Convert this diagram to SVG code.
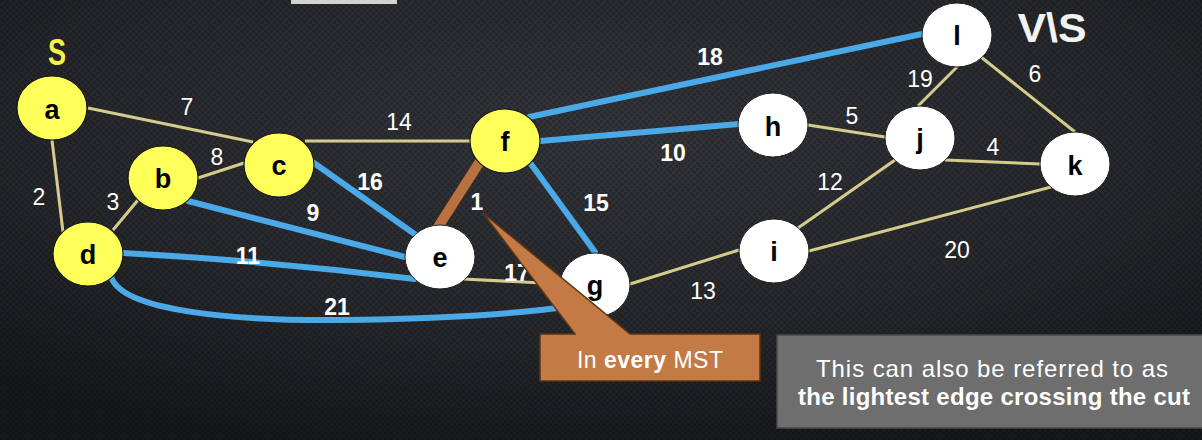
<svg xmlns="http://www.w3.org/2000/svg" width="1202" height="440" viewBox="0 0 1202 440">
<defs>
<radialGradient id="bg" cx="0.5" cy="0.3" r="0.75">
<stop offset="0" stop-color="#33353a"/>
<stop offset="0.6" stop-color="#26282c"/>
<stop offset="1" stop-color="#17181b"/>
</radialGradient>
<pattern id="tex" width="6" height="6" patternUnits="userSpaceOnUse">
<circle cx="1.5" cy="1.5" r="1.4" fill="#000" opacity="0.22"/>
<circle cx="4.5" cy="4.5" r="1.4" fill="#000" opacity="0.22"/>
</pattern>
</defs>
<style>
.tan{stroke:#d5cb8c;stroke-width:3;fill:none}
.blue{stroke:#4aa9e6;stroke-width:6;fill:none;stroke-linecap:round}
.brown{stroke:#b8713f;stroke-width:10;fill:none;stroke-linecap:round}
.lbl{font-family:"Liberation Sans",Arial,sans-serif;font-size:23px;fill:#fff;text-anchor:middle}
.b{font-weight:bold}
.yn{fill:#ffff5a;stroke:#1a1a1a;stroke-width:1.2}
.wn{fill:#fff;stroke:#222;stroke-width:1}
.nt{font-family:"Liberation Sans",Arial,sans-serif;font-size:27px;font-weight:bold;fill:#000;text-anchor:middle}
</style>
<rect width="1202" height="440" fill="url(#bg)"/>
<rect width="1202" height="440" fill="url(#tex)"/>
<rect x="291" y="0" width="106" height="4" fill="#d2d2d2"/>

<text x="57" y="65" font-family="Liberation Sans,Arial,sans-serif" font-size="36" font-weight="bold" fill="#f5f04a" text-anchor="middle" textLength="18" lengthAdjust="spacingAndGlyphs">S</text>
<text x="1052" y="42" font-family="Liberation Sans,Arial,sans-serif" font-size="40" font-weight="bold" fill="#f2f2f2" text-anchor="middle" textLength="69" lengthAdjust="spacingAndGlyphs">V\S</text>

<g id="connectors">
<line class="tan" x1="88" y1="108" x2="253" y2="142"/>
<line class="tan" x1="305" y1="141" x2="470" y2="141"/>
<line class="tan" x1="52" y1="140" x2="63" y2="232"/>
<line class="tan" x1="138" y1="200" x2="113" y2="230"/>
<line class="tan" x1="198" y1="178" x2="244" y2="163"/>
<line class="tan" x1="463" y1="279" x2="562" y2="284"/>
<line class="tan" x1="630" y1="284" x2="739" y2="250"/>
<line class="tan" x1="808" y1="125" x2="885" y2="137"/>
<line class="tan" x1="918" y1="106" x2="957" y2="67"/>
<line class="tan" x1="981" y1="57" x2="1075" y2="132"/>
<line class="tan" x1="945" y1="160" x2="1040" y2="164"/>
<line class="tan" x1="798" y1="228" x2="895" y2="160"/>
<line class="tan" x1="809" y1="251" x2="1051" y2="187"/>
<line class="blue" x1="314" y1="163" x2="416" y2="235"/>
<line class="blue" x1="188" y1="201" x2="405" y2="257"/>
<path class="blue" d="M123,253 Q270,261 415,279"/>
<path class="blue" d="M111,276 C120,312 240,321 340,320 C440,319 510,314 557,308"/>
<line class="blue" x1="531" y1="164" x2="595" y2="252"/>
<line class="blue" x1="529" y1="117" x2="922" y2="34"/>
<line class="blue" x1="540" y1="141" x2="739" y2="124"/>
<line class="brown" x1="479" y1="163" x2="438" y2="227"/>
</g>

<g id="edge-labels">
<text class="lbl" x="187" y="115">7</text>
<text class="lbl" x="399" y="130">14</text>
<text class="lbl" x="217" y="165">8</text>
<text class="lbl b" x="370" y="190">16</text>
<text class="lbl" x="39" y="205">2</text>
<text class="lbl" x="113" y="210">3</text>
<text class="lbl b" x="313" y="221">9</text>
<text class="lbl b" x="248" y="264">11</text>
<text class="lbl b" x="337" y="315">21</text>
<text class="lbl b" x="477" y="210">1</text>
<text class="lbl b" x="596" y="211">15</text>
<text class="lbl b" x="517" y="281">17</text>
<text class="lbl b" x="710" y="65">18</text>
<text class="lbl b" x="673" y="161">10</text>
<text class="lbl" x="852" y="124">5</text>
<text class="lbl" x="920" y="87">19</text>
<text class="lbl" x="1035" y="82">6</text>
<text class="lbl" x="993" y="155">4</text>
<text class="lbl" x="830" y="190">12</text>
<text class="lbl" x="957" y="258">20</text>
<text class="lbl" x="703" y="299">13</text>
</g>

<g id="node-a"><ellipse class="yn" cx="52" cy="108" rx="35" ry="32"/><text class="nt" x="52" y="119">a</text></g>
<g id="node-b"><ellipse class="yn" cx="163" cy="178" rx="35" ry="32"/><text class="nt" x="163" y="188">b</text></g>
<g id="node-c"><ellipse class="yn" cx="279" cy="165" rx="35" ry="32"/><text class="nt" x="279" y="175">c</text></g>
<g id="node-d"><ellipse class="yn" cx="88" cy="254" rx="35" ry="32"/><text class="nt" x="88" y="264">d</text></g>
<g id="node-f"><ellipse class="yn" cx="505" cy="141" rx="35" ry="32"/><text class="nt" x="505" y="151">f</text></g>
<g id="node-e"><ellipse class="wn" cx="440" cy="257" rx="35" ry="32"/><text class="nt" x="440" y="267">e</text></g>
<g id="node-g"><ellipse class="wn" cx="595" cy="285" rx="35" ry="32"/><text class="nt" x="595" y="295">g</text></g>
<g id="node-h"><ellipse class="wn" cx="773" cy="125" rx="35" ry="32"/><text class="nt" x="773" y="136">h</text></g>
<g id="node-i"><ellipse class="wn" cx="774" cy="251" rx="35" ry="32"/><text class="nt" x="774" y="261">i</text></g>
<g id="node-j"><ellipse class="wn" cx="920" cy="138" rx="35" ry="32"/><text class="nt" x="920" y="148">j</text></g>
<g id="node-k"><ellipse class="wn" cx="1075" cy="164" rx="35" ry="32"/><text class="nt" x="1075" y="175">k</text></g>
<g id="node-l"><ellipse class="wn" cx="957" cy="35" rx="35" ry="32"/><text class="nt" x="957" y="45">l</text></g>

<g id="callout-mst">
<path d="M540,334 L575,334 L483,213 L630,334 L760,334 L760,381 L540,381 Z" fill="#c47a45" stroke="#5a3518" stroke-width="1.5" stroke-linejoin="miter"/>
<text x="650" y="368" font-family="Liberation Sans,Arial,sans-serif" font-size="23" fill="#fff" text-anchor="middle" textLength="146">In <tspan font-weight="bold">every</tspan> MST</text>
</g>
<g id="callout-cut">
<rect x="777" y="335" width="430" height="93" fill="#6e6e6e" stroke="#4a4a4a" stroke-width="1.5"/>
<text x="992" y="377" font-family="Liberation Sans,Arial,sans-serif" font-size="24" fill="#fff" text-anchor="middle" textLength="352">This can also be referred to as</text>
<text x="994" y="405" font-family="Liberation Sans,Arial,sans-serif" font-size="24" font-weight="bold" fill="#fff" text-anchor="middle" textLength="392">the lightest edge crossing the cut</text>
</g>
</svg>
